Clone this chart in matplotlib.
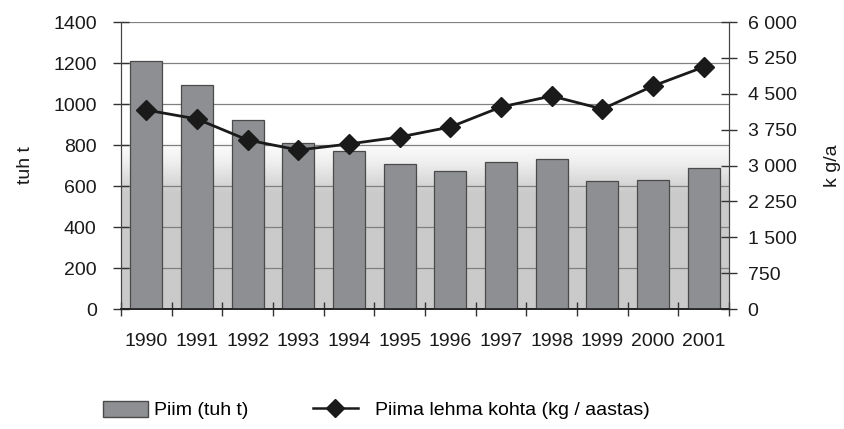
import numpy as np
import matplotlib.pyplot as plt
from matplotlib.lines import Line2D
from matplotlib.patches import Patch

plt.rcParams['font.family'] = ['Liberation Sans', 'DejaVu Sans']

years = ['1990', '1991', '1992', '1993', '1994', '1995',
         '1996', '1997', '1998', '1999', '2000', '2001']
piim = [1210, 1093, 922, 810, 771, 707, 673, 717, 732, 624, 629, 688]
per_cow = [4160, 3972, 3533, 3324, 3450, 3596, 3805, 4223, 4453, 4181, 4662, 5060]

left_ticks = [0, 200, 400, 600, 800, 1000, 1200, 1400]
right_ticks = [0, 750, 1500, 2250, 3000, 3750, 4500, 5250, 6000]

fig = plt.figure(figsize=(8.44, 4.29), dpi=100)
ax = fig.add_axes([0.1434, 0.2797, 0.7203, 0.669])
ax2 = ax.twinx()

x = np.arange(len(years))

# light grey shading in the lower part, like the original's background
grad = np.clip((820 - np.linspace(0, 820, 200)) / 250, 0, 1).reshape(-1, 1)
ax.imshow(grad, extent=(-0.5, len(years) - 0.5, 0, 820), aspect='auto',
          cmap='Greys', vmin=0, vmax=3.2, origin='lower', zorder=0)

ax.bar(x, piim, width=0.63, color='#8d8f92', edgecolor='#4a4a4a',
       linewidth=0.9, zorder=3)
ax.set_xlim(-0.5, len(years) - 0.5)
ax.set_ylim(0, 1400)
ax.set_yticks(left_ticks)
ax.set_yticklabels([str(v) for v in left_ticks])
ax.yaxis.grid(True, color='#808080', linewidth=0.9, zorder=1)
ax.set_axisbelow(True)

ax.set_xticks(x)
ax.set_xticklabels(years)
ax.set_xticks(np.arange(len(years) + 1) - 0.5, minor=True)
ax.tick_params(axis='x', which='major', length=0, pad=17, labelsize=14,
               colors='#1a1a1a')
ax.tick_params(axis='x', which='minor', direction='inout', length=10,
               width=1, color='#333333')
ax.tick_params(axis='y', direction='inout', length=11, width=1,
               color='#333333', pad=12, labelsize=14, labelcolor='#1a1a1a')
ax.set_ylabel('tuh t', fontsize=14, labelpad=14, color='#1a1a1a')

ax2.plot(x, per_cow, color='#1a1a1a', linewidth=2, marker='D',
         markersize=10, zorder=5)
ax2.set_ylim(0, 6000)
ax2.set_yticks(right_ticks)
ax2.set_yticklabels([f'{v:,}'.replace(',', ' ') for v in right_ticks])
ax2.tick_params(axis='y', direction='inout', length=11, width=1,
                color='#333333', pad=8, labelsize=14, labelcolor='#1a1a1a')
ax2.set_ylabel('k g/a', fontsize=14, labelpad=20, rotation=90,
               color='#1a1a1a')

for a in (ax, ax2):
    a.spines['top'].set_visible(False)
    a.spines['left'].set_color('#444444')
    a.spines['right'].set_color('#444444')
    a.spines['bottom'].set_color('#222222')
    a.spines['bottom'].set_linewidth(1.2)

bar_handle = Patch(facecolor='#8d8f92', edgecolor='#4a4a4a')
line_handle = Line2D([], [], color='#1a1a1a', linewidth=1.8, marker='D',
                     markersize=9)
leg_kw = dict(loc='center left', frameon=False, fontsize=14,
              handlelength=2.3, handleheight=0.9,
              borderaxespad=0, borderpad=0)
fig.legend([bar_handle], ['Piim (tuh t)'], handletextpad=0.3,
           bbox_to_anchor=(103 / 844, 1 - 410 / 429), **leg_kw)
fig.legend([line_handle], ['Piima lehma kohta (kg / aastas)'],
           handletextpad=0.9,
           bbox_to_anchor=(313 / 844, 1 - 410 / 429), **leg_kw)

fig.savefig('out.png', dpi=100)
